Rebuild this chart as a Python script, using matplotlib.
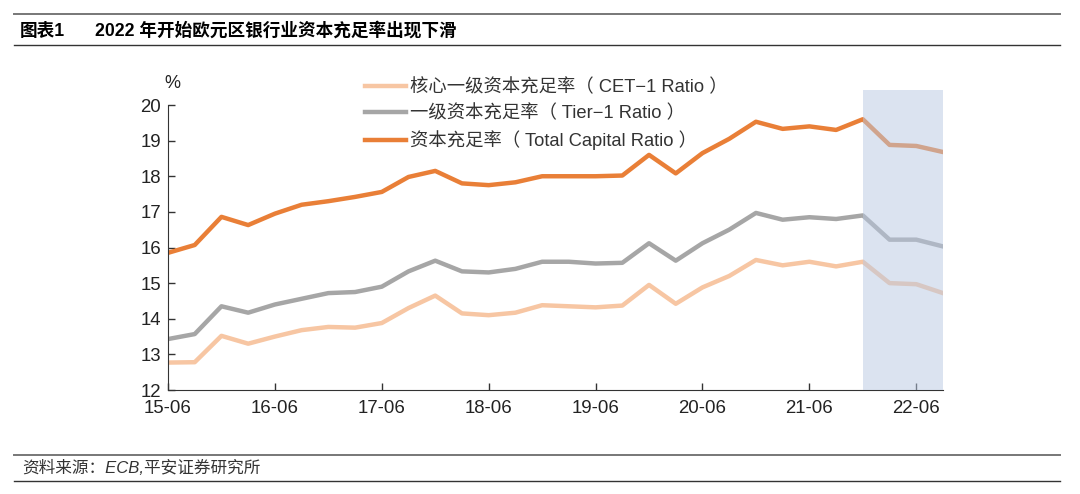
import matplotlib
matplotlib.use("Agg")
from matplotlib import pyplot as plt
import numpy as np

plt.rcParams['font.family'] = ['Liberation Sans', 'Noto Sans CJK SC', 'DejaVu Sans']

# 季度数据 15-06 ... 22-09
trimestres = ["15-06", "15-09", "15-12", "16-03", "16-06", "16-09", "16-12", "17-03",
              "17-06", "17-09", "17-12", "18-03", "18-06", "18-09", "18-12", "19-03",
              "19-06", "19-09", "19-12", "20-03", "20-06", "20-09", "20-12", "21-03",
              "21-06", "21-09", "21-12", "22-03", "22-06", "22-09"]

cet1 = [12.77, 12.78, 13.52, 13.30, 13.50, 13.68, 13.77, 13.75, 13.88, 14.30,
        14.65, 14.15, 14.10, 14.17, 14.38, 14.35, 14.32, 14.37, 14.95, 14.42,
        14.88, 15.20, 15.65, 15.50, 15.60, 15.47, 15.60, 15.00, 14.97, 14.72]
tier1 = [13.43, 13.57, 14.35, 14.17, 14.40, 14.56, 14.72, 14.75, 14.90, 15.33,
         15.63, 15.33, 15.30, 15.40, 15.60, 15.60, 15.55, 15.57, 16.12, 15.63,
         16.12, 16.50, 16.97, 16.78, 16.85, 16.80, 16.90, 16.22, 16.22, 16.03]
total = [15.85, 16.07, 16.86, 16.63, 16.95, 17.20, 17.30, 17.42, 17.56, 17.98,
         18.15, 17.80, 17.75, 17.83, 18.00, 18.00, 18.00, 18.02, 18.60, 18.08,
         18.65, 19.05, 19.53, 19.33, 19.40, 19.30, 19.60, 18.88, 18.85, 18.68]

series_nombres = ["核心一级资本充足率（ CET−1 Ratio ）",
                  "一级资本充足率（ Tier−1 Ratio ）",
                  "资本充足率（ Total Capital Ratio ）"]
colores = ['#F7C6A3', '#A6A6A6', '#E97F37']

inicio_sombra = "21-12"

fig = plt.figure(figsize=(10.8, 4.94), dpi=100)
ax = fig.add_axes([168/1080, 1 - 390/494, (943-168)/1080, (390-105)/494])

x = np.arange(len(trimestres))
for datos, nombre, color in zip([cet1, tier1, total], series_nombres, colores):
    ax.plot(x, datos, color=color, linewidth=3.2, label=nombre)

# sombra 2022
i0 = trimestres.index(inicio_sombra)
ax.axvspan(i0, len(trimestres) - 1, ymin=0, ymax=1.053, color='#B8C9E3', alpha=0.5,
           lw=0, zorder=5, clip_on=False)

ax.set_xlim(0, len(trimestres) - 1)
ax.set_ylim(12, 20)
ax.set_yticks(range(12, 21))
ax.set_xticks(x[::4], labels=trimestres[::4])
ax.tick_params(direction='in', length=5, width=1, labelsize=13.4, color='#333333',
               labelcolor='#222222')
ax.tick_params(axis='y', pad=5)
ax.tick_params(axis='x', pad=7)
for lado in ['top', 'right']:
    ax.spines[lado].set_visible(False)
for lado in ['left', 'bottom']:
    ax.spines[lado].set_color('#333333')

ax.text(0.006, 1.045, "%", transform=ax.transAxes, fontsize=13, ha='center', va='bottom',
        color='#222222')

leg = ax.legend(loc='upper left', bbox_to_anchor=(0.245, 1.1175), frameon=False, fontsize=13.2,
                handlelength=2.2, handletextpad=0.25, labelspacing=0.45, borderaxespad=0)
for t in leg.get_texts():
    t.set_color('#333333')

# cabecera y pie
for yy in [14, 45, 455, 481]:
    fig.add_artist(plt.Line2D([14/1080, 1060/1080], [1 - yy/494, 1 - yy/494],
                              color='#333333' if yy in (45, 481) else '#777777',
                              linewidth=1.0 if yy in (45, 481) else 1.4))
fig.text(20/1080, 1 - 31/494, "图表1", fontsize=12.7, fontweight='bold', va='center')
fig.text(95/1080, 1 - 31/494, "2022 年开始欧元区银行业资本充足率出现下滑", fontsize=12.7,
         fontweight='bold', va='center')
fig.text(22/1080, 1 - 468/494, "资料来源：ECB,平安证券研究所", fontsize=12,
         style='italic', va='center', color='#333333')

fig.savefig("out.png", dpi=100)
